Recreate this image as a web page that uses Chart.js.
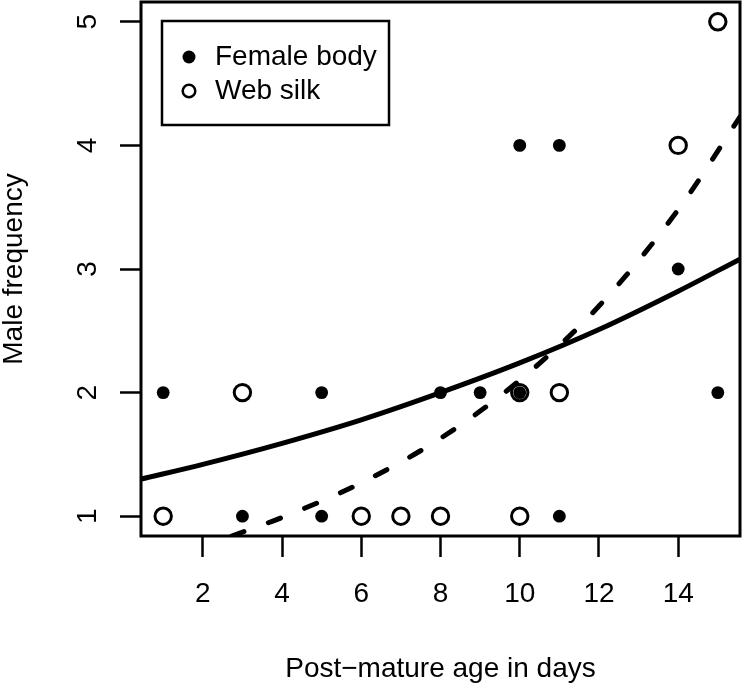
<!DOCTYPE html>
<html>
<head>
<meta charset="utf-8">
<script src="https://cdn.jsdelivr.net/npm/chart.js@4.4.1/dist/chart.umd.min.js"></script>
<style>
  html, body { margin: 0; padding: 0; background: #fff; }
  #wrap { width: 742px; height: 687px; position: relative; }
</style>
</head>
<body>
<div id="wrap"><canvas id="chart"></canvas></div>
<script>
const X_TICKS = [2, 4, 6, 8, 10, 12, 14];
const Y_TICKS = [1, 2, 3, 4, 5];

const bodyX = [1, 3, 5, 5, 8, 9, 10, 10, 11, 11, 14, 15];
const bodyY = [2, 1, 2, 1, 2, 2, 2, 4, 4, 1, 3, 2];
const silkX = [1, 3, 6, 7, 8, 10, 10, 11, 14, 15];
const silkY = [1, 2, 1, 1, 1, 1, 2, 2, 4, 5];

// fitted curves (solid = female body, dashed = web silk)
const bodyFitX = [0.44, 2, 4, 6, 8, 10, 12, 14, 15.56];
const bodyFitY = [1.30, 1.42, 1.59, 1.78, 2.00, 2.24, 2.51, 2.82, 3.08];
const silkFitX = [2.73, 4, 6, 8, 10, 12, 14, 15.56];
const silkFitY = [0.84, 0.99, 1.27, 1.63, 2.10, 2.70, 3.48, 4.23];

const FONT = 'Liberation Sans, Arial, Helvetica, sans-serif';
const pts = (xs, ys) => xs.map((x, i) => ({ x, y: ys[i] }));

// keep the plot box where R put it: no extra room for overhanging labels
function fixBox(s, size) {
  if (s.isHorizontal()) s.height = size; else s.width = size;
  s.paddingLeft = s.paddingRight = s.paddingTop = s.paddingBottom = 0;
}

// R-style full box, axis titles and boxed legend
const rDecor = {
  id: 'rDecor',
  afterDraw(chart) {
    const { ctx, chartArea: a } = chart;
    ctx.save();
    ctx.strokeStyle = '#000';
    ctx.lineWidth = 3;
    ctx.strokeRect(a.left, a.top, a.right - a.left, a.bottom - a.top);

    ctx.fillStyle = '#000';
    ctx.font = '28px ' + FONT;
    ctx.textAlign = 'center';
    ctx.textBaseline = 'middle';
    ctx.fillText('Post\u2212mature age in days', (a.left + a.right) / 2, 669);
    ctx.save();
    ctx.translate(14, (a.top + a.bottom) / 2);
    ctx.rotate(-Math.PI / 2);
    ctx.fillText('Male frequency', 0, 0);
    ctx.restore();

    // legend
    ctx.lineWidth = 2.5;
    ctx.strokeRect(162, 21, 227, 104);
    const items = chart.data.datasets.filter((d) => d.inLegend);
    items.forEach((d, i) => {
      const y = 57 + i * 34;
      ctx.beginPath();
      if (d.backgroundColor === '#000') {
        ctx.arc(189, y, 6.5, 0, Math.PI * 2);
        ctx.fill();
      } else {
        ctx.lineWidth = 2.5;
        ctx.arc(189, y, 6.3, 0, Math.PI * 2);
        ctx.stroke();
      }
      ctx.textAlign = 'left';
      ctx.fillText(d.label, 215, y);
    });
    ctx.restore();
  }
};

const ctx = document.getElementById('chart').getContext('2d');
new Chart(ctx, {
  type: 'scatter',
  data: {
    datasets: [
      { label: 'fit body', data: pts(bodyFitX, bodyFitY), showLine: true, borderColor: '#000', borderWidth: 5, pointRadius: 0, cubicInterpolationMode: 'monotone', clip: 0 },
      { label: 'fit silk', data: pts(silkFitX, silkFitY), showLine: true, borderColor: '#000', borderWidth: 5, borderDash: [13, 26], borderCapStyle: 'round', pointRadius: 0, cubicInterpolationMode: 'monotone', clip: 0 },
      { label: 'Female body', inLegend: true, data: pts(bodyX, bodyY), backgroundColor: '#000', borderWidth: 0, pointRadius: 6.4 },
      { label: 'Web silk', inLegend: true, data: pts(silkX, silkY), backgroundColor: 'rgba(0,0,0,0)', borderColor: '#000', borderWidth: 3, pointRadius: 8.2 }
    ]
  },
  options: {
    responsive: true,
    maintainAspectRatio: false,
    animation: false,
    events: [],
    layout: { autoPadding: false, padding: { top: 2, right: 2, left: 0, bottom: 0 } },
    plugins: { legend: { display: false }, tooltip: { enabled: false } },
    scales: {
      x: {
        type: 'linear',
        min: 0.44,
        max: 15.56,
        afterBuildTicks: (s) => { s.ticks = X_TICKS.map((v) => ({ value: v })); },
        afterFit: (s) => fixBox(s, 151),
        border: { display: false },
        grid: { drawOnChartArea: false, tickLength: 21, tickWidth: 2.5, tickColor: '#000' },
        ticks: { color: '#000', font: { size: 28, family: FONT }, padding: 20, maxRotation: 0 }
      },
      y: {
        type: 'linear',
        min: 0.84,
        max: 5.16,
        afterBuildTicks: (s) => { s.ticks = Y_TICKS.map((v) => ({ value: v })); },
        afterFit: (s) => fixBox(s, 141),
        border: { display: false },
        grid: { drawOnChartArea: false, tickLength: 21, tickWidth: 2.5, tickColor: '#000' },
        ticks: { color: '#000', font: { size: 28, family: FONT }, padding: 24, minRotation: 90, maxRotation: 90, crossAlign: 'center' }
      }
    }
  },
  plugins: [rDecor]
});
</script>
</body>
</html>
